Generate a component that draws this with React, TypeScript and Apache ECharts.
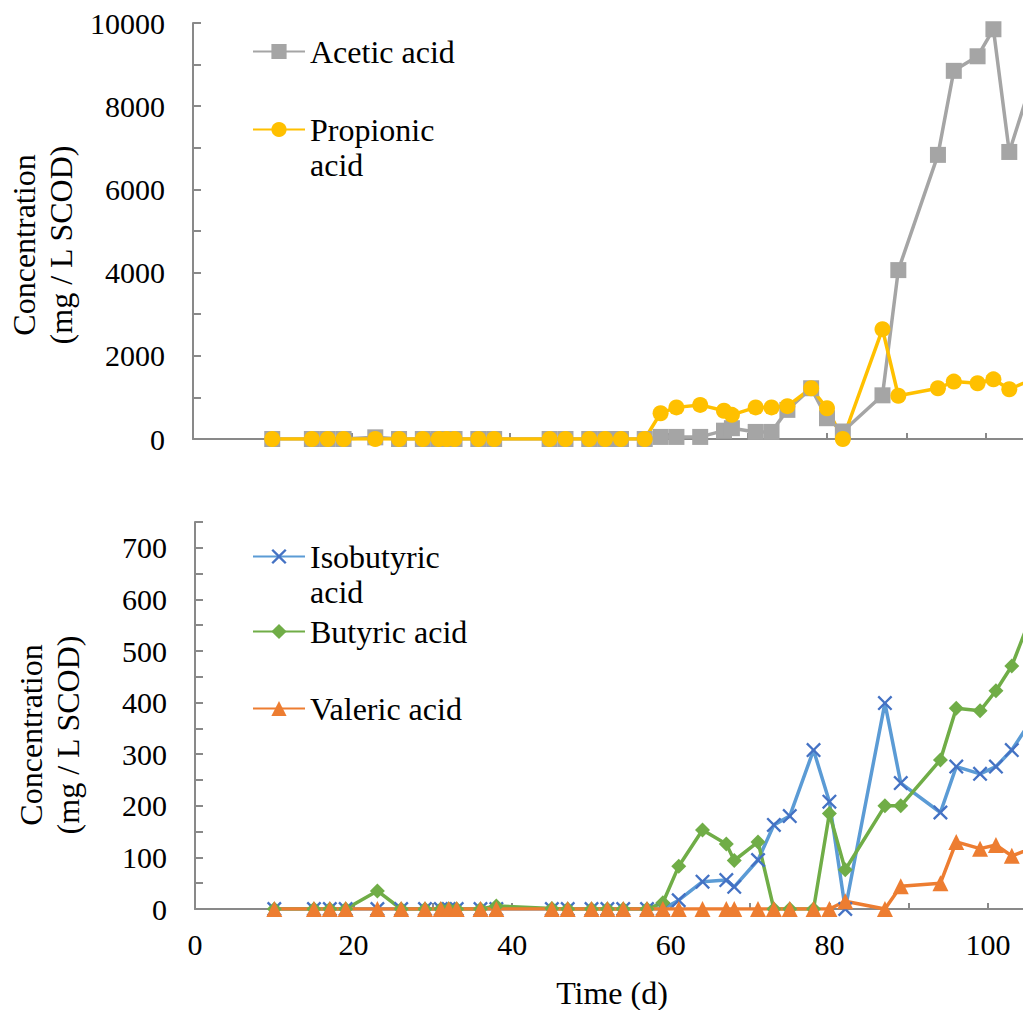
import React, { useEffect, useRef } from 'react';
import * as echarts from 'echarts';

// Sampling days (d); the last entry lies just past the right edge of the page
const days = [10, 15, 17, 19, 23, 26, 29, 31, 32, 33, 36, 38, 45, 47, 50, 52, 54, 57, 59, 61, 64, 67, 68, 71, 73, 75, 78, 80, 82, 87, 89, 94, 96, 99, 101, 103, 106];

// Upper panel (mg / L SCOD)
const aceticAcid = [0, 0, 0, 0, 40, 0, 0, 0, 0, 0, 0, 0, 0, 0, 0, 0, 0, 0, 50, 50, 50, 200, 260, 170, 170, 700, 1220, 500, 180, 1050, 4060, 6830, 8850, 9200, 9850, 6900, 8700];
const propionicAcid = [0, 0, 0, 0, 0, 0, 0, 0, 0, 0, 0, 0, 0, 0, 0, 0, 0, 0, 620, 760, 820, 680, 580, 760, 760, 790, 1220, 740, 0, 2640, 1040, 1220, 1380, 1340, 1435, 1195, 1440];

// Lower panel (mg / L SCOD)
const isobutyricAcid = [0, 0, 0, 0, 0, 0, 0, 0, 0, 0, 0, 0, 0, 0, 0, 0, 0, 0, 0, 17, 53, 56, 43, 95, 163, 180, 308, 208, 0, 399, 244, 187, 276, 262, 276, 308, 378];
const butyricAcid = [0, 0, 0, 0, 35, 0, 0, 0, 0, 0, 0, 6, 1, 0, 0, 0, 0, 0, 12, 83, 153, 126, 94, 130, 0, 0, 0, 185, 76, 200, 200, 289, 389, 384, 423, 471, 590];
const valericAcid = [0, 0, 0, 0, 0, 0, 0, 0, 0, 0, 0, 0, 0, 0, 0, 0, 0, 0, 0, 0, 0, 0, 0, 0, 0, 0, 0, 0, 15, 0, 44, 50, 130, 117, 124, 103, 120];

const SERIF = '"Liberation Serif", "Times New Roman", serif';
const AXIS_GRAY = '#898989';
const X_MARK = 'path://M0,1.1 L1.1,0 L5,3.9 L8.9,0 L10,1.1 L6.1,5 L10,8.9 L8.9,10 L5,6.1 L1.1,10 L0,8.9 L3.9,5 Z';

const pairs = (vals: number[]) => days.map((d, i) => [d, vals[i]]);

const xAxisFor = (gridIndex: number, showLabels: boolean) => ({
  type: 'value',
  gridIndex,
  min: 0,
  max: 110,
  interval: 10,
  axisLine: { lineStyle: { color: AXIS_GRAY, width: 2 } },
  axisTick: { inside: true, length: 6, lineStyle: { color: AXIS_GRAY, width: 2 } },
  splitLine: { show: false },
  axisLabel: {
    show: showLabels,
    margin: 20,
    color: '#000',
    fontFamily: SERIF,
    fontSize: 30,
    formatter: (v: number) => (v % 20 === 0 ? String(v) : ''),
  },
});

const yAxisFor = (gridIndex: number, max: number, step: number, labelStep: number) => ({
  type: 'value',
  gridIndex,
  min: 0,
  max,
  interval: step,
  axisLine: { show: true, lineStyle: { color: AXIS_GRAY, width: 2 } },
  axisTick: { show: true, inside: true, length: 8, lineStyle: { color: AXIS_GRAY, width: 2 } },
  splitLine: { show: false },
  axisLabel: {
    margin: 28,
    color: '#000',
    fontFamily: SERIF,
    fontSize: 30,
    formatter: (v: number) => (v % labelStep === 0 ? String(v) : ''),
  },
});

const lineSeries = (name: string, xi: number, vals: number[], color: string, symbol: string, size: number, markColor?: string) => ({
  name,
  type: 'line',
  xAxisIndex: xi,
  yAxisIndex: xi,
  data: pairs(vals),
  symbol,
  symbolSize: size,
  showAllSymbol: true,
  lineStyle: { color, width: 3.5 },
  itemStyle: { color: markColor || color },
  emphasis: { disabled: true },
});

const legendText = { fontFamily: SERIF, fontSize: 32, color: '#000', lineHeight: 35 };
const legendBase = { left: 252, padding: 0, itemWidth: 52, itemHeight: 19, selectedMode: false, textStyle: legendText };
// Two-line entries: a blank first line keeps the name's first line level with the marker
const wrapName = (name: string) => '\u00a0\n' + name.replace(' ', '\n');

export default function App() {
  const ref = useRef<HTMLDivElement>(null);

  useEffect(() => {
    if (!ref.current) return;
    const chart = echarts.init(ref.current, undefined, { renderer: 'svg' });
    chart.setOption({
      animation: false,
      backgroundColor: '#fff',
      grid: [
        { left: 193, top: 23, width: 871.75, height: 416 },
        { left: 195, top: 522, width: 872.3, height: 387 },
      ],
      xAxis: [xAxisFor(0, false), xAxisFor(1, true)],
      yAxis: [yAxisFor(0, 10000, 1000, 2000), yAxisFor(1, 750, 50, 100)],
      legend: [
        { ...legendBase, top: 34, data: ['Acetic acid'] },
        { ...legendBase, top: 77, data: ['Propionic acid'], formatter: wrapName },
        { ...legendBase, top: 504, data: ['Isobutyric acid'], formatter: wrapName },
        { ...legendBase, top: 614, data: ['Butyric acid'] },
        { ...legendBase, top: 691, data: ['Valeric acid'] },
      ],
      graphic: [
        {
          type: 'text', x: 42, y: 245, rotation: Math.PI / 2,
          style: { text: 'Concentration\n(mg / L SCOD)', fontFamily: SERIF, fontSize: 32, lineHeight: 37, fill: '#000', align: 'center', verticalAlign: 'middle' },
        },
        {
          type: 'text', x: 49, y: 735, rotation: Math.PI / 2,
          style: { text: 'Concentration\n(mg / L SCOD)', fontFamily: SERIF, fontSize: 32, lineHeight: 37, fill: '#000', align: 'center', verticalAlign: 'middle' },
        },
        {
          type: 'text', x: 612, y: 993,
          style: { text: 'Time (d)', fontFamily: SERIF, fontSize: 32, fill: '#000', align: 'center', verticalAlign: 'middle' },
        },
      ],
      series: [
        lineSeries('Acetic acid', 0, aceticAcid, '#A5A5A5', 'rect', 16),
        lineSeries('Propionic acid', 0, propionicAcid, '#FFC000', 'circle', 16),
        lineSeries('Isobutyric acid', 1, isobutyricAcid, '#5B9BD5', X_MARK, 15, '#4472C4'),
        lineSeries('Butyric acid', 1, butyricAcid, '#70AD47', 'diamond', 15),
        lineSeries('Valeric acid', 1, valericAcid, '#ED7D31', 'triangle', 16),
      ],
    });
    return () => chart.dispose();
  }, []);

  return (
    <div style={{ position: 'absolute', left: 0, top: 0, width: 1023, height: 1010, overflow: 'hidden', background: '#fff' }}>
      <div ref={ref} style={{ width: 1100, height: 1010 }} />
    </div>
  );
}
